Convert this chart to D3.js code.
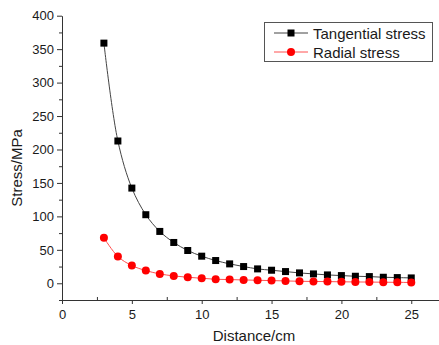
<!DOCTYPE html>
<html><head><meta charset="utf-8">
<script src="https://cdn.jsdelivr.net/npm/d3@7"></script>
<style>html,body{margin:0;padding:0;background:#fff;} svg{display:block;}</style>
</head><body>
<svg id="c" width="439" height="345"></svg>
<script>
const distance = [3,4,5,6,7,8,9,10,11,12,13,14,15,16,17,18,19,20,21,22,23,24,25];
const tangential = [359,212.7,142.3,102.5,77.5,61,49,40.5,34,29,25,21.5,19.5,17.5,15.5,14,12.5,11.5,10.5,10,9,8.5,8];
const radial = [68,40,26.5,19,14,11,9,7.5,6,5.5,5,4.5,4,3.5,3,2.7,2.5,2.2,2,1.8,1.6,1.4,1.2];
const xTicks = [0,5,10,15,20,25];
const yTicks = [0,50,100,150,200,250,300,350,400];
const seriesNames = ["Tangential stress","Radial stress"];

const svg = d3.select("#c");
const font = "Liberation Sans, Arial, sans-serif";
const x = d3.scaleLinear().domain([0,27]).range([62,439.2]);
const y = d3.scaleLinear().domain([-25,400]).range([300,15.7]);

// axes
svg.append("g").attr("transform","translate(0,300)")
  .call(d3.axisBottom(x).tickValues(xTicks).tickSize(4).tickSizeOuter(0).tickPadding(6).tickFormat(d3.format("d")));
svg.append("g").attr("transform","translate(62,0)")
  .call(d3.axisLeft(y).tickValues(yTicks).tickSize(5).tickSizeOuter(0).tickPadding(3).tickFormat(d3.format("d")));
// minor ticks
svg.append("g").attr("transform","translate(0,300)")
  .call(d3.axisBottom(x).tickValues(d3.range(2.5,27,5)).tickSize(-3).tickSizeOuter(0).tickFormat(""))
  .select(".domain").remove();
svg.append("g").attr("transform","translate(62,0)")
  .call(d3.axisLeft(y).tickValues(d3.range(-25,400,50)).tickSize(3).tickSizeOuter(0).tickFormat(""))
  .select(".domain").remove();
svg.selectAll(".domain, .tick line").attr("stroke","#333").attr("stroke-width",1);
svg.selectAll(".tick text").attr("font-family",font).attr("font-size",13).attr("fill","#1a1a1a");

// titles
svg.append("text").attr("x",254).attr("y",341).attr("text-anchor","middle")
  .attr("font-family",font).attr("font-size",15).attr("fill","#1a1a1a").text("Distance/cm");
svg.append("text").attr("transform","translate(22,168) rotate(-90)").attr("text-anchor","middle")
  .attr("font-family",font).attr("font-size",15).attr("fill","#1a1a1a").text("Stress/MPa");

const line = d3.line().curve(d3.curveCatmullRom.alpha(0.5));
const tPts = distance.map((d,i)=>[x(d),y(tangential[i])]);
const rPts = distance.map((d,i)=>[x(d),y(radial[i])]);
svg.append("path").attr("d",line(tPts)).attr("fill","none").attr("stroke","#444").attr("stroke-width",1);
svg.append("path").attr("d",line(rPts)).attr("fill","none").attr("stroke","#ff5050").attr("stroke-width",1);
svg.append("g").selectAll("rect").data(tPts).join("rect")
  .attr("x",d=>d[0]-3.5).attr("y",d=>d[1]-3.5).attr("width",7).attr("height",7).attr("fill","#000");
svg.append("g").selectAll("circle").data(rPts).join("circle")
  .attr("cx",d=>d[0]).attr("cy",d=>d[1]).attr("r",4).attr("fill","#ff0000");

// legend
const lg = svg.append("g");
lg.append("rect").attr("x",264.5).attr("y",22.5).attr("width",168).attr("height",39)
  .attr("fill","#fff").attr("stroke","#555").attr("stroke-width",1);
const rows = [{n:seriesNames[0],c:"#444",m:"sq",yy:33},{n:seriesNames[1],c:"#ff5050",m:"ci",yy:52}];
rows.forEach(r=>{
  lg.append("line").attr("x1",274).attr("x2",308).attr("y1",r.yy).attr("y2",r.yy).attr("stroke",r.c).attr("stroke-width",1);
  if(r.m==="sq") lg.append("rect").attr("x",291-3.5).attr("y",r.yy-3.5).attr("width",7).attr("height",7).attr("fill","#000");
  else lg.append("circle").attr("cx",291).attr("cy",r.yy).attr("r",4).attr("fill","#ff0000");
  lg.append("text").attr("x",313).attr("y",r.yy+5.5).attr("font-family",font).attr("font-size",15).attr("fill","#1a1a1a").text(r.n);
});
</script>
</body></html>
